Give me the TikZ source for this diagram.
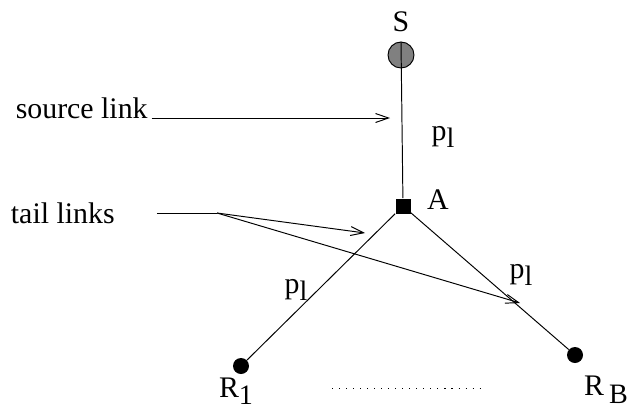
\documentclass[tikz,border=0pt]{standalone}
\usepackage{fontspec}
\setmainfont{Liberation Serif}
\usetikzlibrary{arrows.meta,positioning}
\newcommand{\lowr}[1]{\raisebox{-0.55ex}{\fontsize{16}{16}\selectfont #1}}

\begin{document}
\begin{tikzpicture}[
  x=0.02cm,y=-0.02cm,
  lbl/.style={font=\fontsize{17}{20}\selectfont,inner sep=0pt},
  rcv/.style={circle,fill=black,inner sep=0pt,minimum size=0.32cm},
  link/.style={line width=0.55pt},
  arrow/.style={-{Straight Barb[length=2.6mm,width=1.8mm]},line width=0.55pt}
]
\useasboundingbox (0,0) rectangle (629,413);
% tree nodes
\node[circle,draw=black,line width=0.55pt,fill=black!50,inner sep=0pt,
  minimum size=0.52cm] (src) at (401,55) {};
\node[fill=black,inner sep=0pt,minimum size=0.3cm] (jn) at (403,206) {};
\node[rcv] (r1) at (241,366) {};
\node[rcv] (rb) at (575,355) {};
% labels
\node[lbl] (slbl) at (401,22) {S};
\node[lbl] (albl) at (438,200) {A};
\node[lbl] (p1) at (443,137) {p\lowr{l}};
\node[lbl] (p2) at (296,290) {p\lowr{l}};
\node[lbl] (p3) at (521,275) {p\lowr{l}};
\node[lbl] (r1lbl) at (236,391) {R\lowr{1}};
\node[lbl] (rblbl) at (606,390) {R\,\lowr{B}};
\node[lbl,anchor=base east] (srclbl) at (148,118) {source link};
\node[lbl,anchor=east] (taillbl) at (115,213) {tail links};
% links
\draw[link] (src.north) -- (jn);
\draw[link] (jn) -- (r1);
\draw[link] (jn) -- (rb);
\draw[line width=0.5pt,dash pattern=on 0.6pt off 3.4pt] (332,388) -- (480,388);
% pointers
\coordinate (srctip) at (390,118);
\coordinate (fork) at (217,213);
\coordinate (tailtip1) at (365,233);
\coordinate (tailtip2) at (520,303);
\draw[arrow] ([xshift=2pt]srclbl.base east) -- (srctip);
\draw[link] ([xshift=0.84cm]taillbl.east) -- (fork);
\draw[arrow] (fork) -- (tailtip1);
\draw[arrow] (fork) -- (tailtip2);
\end{tikzpicture}
\end{document}
